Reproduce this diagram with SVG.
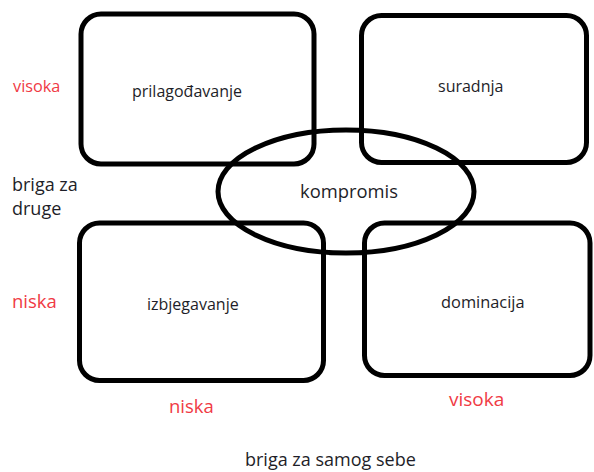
<svg xmlns="http://www.w3.org/2000/svg" width="594" height="472" viewBox="0 0 594 472">
<style>
.box{fill:none;stroke:#000;stroke-width:5}
.t{font-family:"Open Sans","Noto Sans",sans-serif;fill:#1e1e28}
.r{font-family:"Open Sans","Noto Sans",sans-serif;fill:#f03a44}
</style>
<rect width="594" height="472" fill="#fff"/>
<g id="prilagodavanje">
<rect class="box" x="81" y="14" width="233" height="150" rx="20"/>
<text class="t" x="132" y="97" font-size="16">prilagođavanje</text>
</g>
<g id="suradnja">
<rect class="box" x="361.5" y="15.5" width="225" height="147" rx="20"/>
<text class="t" x="438" y="92" font-size="16">suradnja</text>
</g>
<g id="izbjegavanje">
<rect class="box" x="79.5" y="223" width="244" height="157.5" rx="20"/>
<text class="t" x="147" y="310" font-size="16">izbjegavanje</text>
</g>
<g id="dominacija">
<rect class="box" x="364.5" y="223" width="225.5" height="152.5" rx="20"/>
<text class="t" x="441" y="308" font-size="16.4">dominacija</text>
</g>
<g id="kompromis">
<ellipse class="box" cx="346" cy="191.5" rx="128" ry="61.5"/>
<text class="t" x="300" y="198" font-size="18.4">kompromis</text>
</g>
<g id="labels">
<text class="r" x="13" y="92" font-size="16.3">visoka</text>
<text class="t" x="12" y="191" font-size="18">briga za</text>
<text class="t" x="12" y="215" font-size="18">druge</text>
<text class="r" x="12" y="308" font-size="18.5">niska</text>
<text class="r" x="169" y="413" font-size="18.5">niska</text>
<text class="r" x="449" y="406" font-size="19">visoka</text>
<text class="t" x="245" y="466" font-size="18">briga za samog sebe</text>
</g>
<g id="connectors"/>
</svg>
